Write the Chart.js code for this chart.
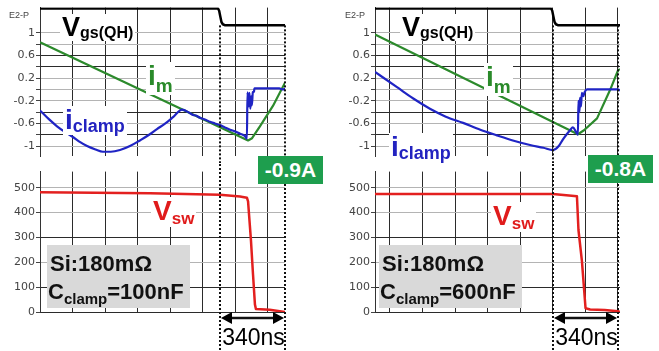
<!DOCTYPE html>
<html>
<head>
<meta charset="utf-8">
<script src="https://cdn.jsdelivr.net/npm/chart.js@4.4.1/dist/chart.umd.min.js"></script>
<style>
  body { margin: 0; background: #fff; }
  #wrap { position: relative; width: 659px; height: 351px; overflow: hidden; font-family: Arial, "Liberation Sans", sans-serif; }
  canvas { position: absolute; }
  .tag { position: absolute; background: #fff; font-weight: bold; line-height: 1; white-space: nowrap; padding: 0 2px; }
  .k { color: #000; }
  .g { color: #2a8a2a; }
  .b { color: #2323c0; }
  .r { color: #e01b1b; }
  .scope { position: absolute; font-size: 9px; color: #444; }
  .note { position: absolute; background: #d9d9d9; font-weight: bold; font-size: 22px; color: #111; width: 143px; height: 63px; }
  .note div { position: absolute; line-height: 22px; white-space: nowrap; }
  .note .cs { font-size: 15px; vertical-align: -5px; }
  .amp { position: absolute; background: #1e9e4e; color: #fff; font-weight: bold; font-size: 21px; text-align: center; line-height: 28px; width: 65px; height: 28px; }
</style>
</head>
<body>
<div id="wrap">
  <canvas id="lt" width="330" height="164" style="left:0;top:0"></canvas>
  <canvas id="lb" width="330" height="187" style="left:0;top:164px"></canvas>
  <canvas id="rt" width="329" height="164" style="left:330px;top:0"></canvas>
  <canvas id="rb" width="329" height="187" style="left:330px;top:164px"></canvas>

  <div class="scope" style="left:9px;top:10px">E2-P</div>
  <div class="scope" style="left:345px;top:10px">E2-P</div>

  <div class="tag k" style="left:60px;top:14px;font-size:27px">V<span style="font-size:16px;vertical-align:-2px">gs(QH)</span></div>
  <div class="tag g" style="left:146px;top:62px;font-size:28px">i<span style="font-size:19px;vertical-align:-7px">m</span></div>
  <div class="tag b" style="left:63px;top:106px;font-size:28px">i<span style="font-size:18px;vertical-align:-3px">clamp</span></div>
  <div class="tag r" style="left:151px;top:197px;font-size:28px">V<span style="font-size:17px;vertical-align:-4px">sw</span></div>

  <div class="tag k" style="left:400px;top:14px;font-size:27px">V<span style="font-size:16px;vertical-align:-2px">gs(QH)</span></div>
  <div class="tag g" style="left:484px;top:63px;font-size:28px">i<span style="font-size:19px;vertical-align:-7px">m</span></div>
  <div class="tag b" style="left:389px;top:133px;font-size:28px">i<span style="font-size:18px;vertical-align:-3px">clamp</span></div>
  <div class="tag r" style="left:491px;top:202px;font-size:28px">V<span style="font-size:17px;vertical-align:-4px">sw</span></div>

  <div class="note" style="left:47px;top:245px">
    <div style="left:3px;top:8px">Si:180mΩ</div>
    <div style="left:1px;top:36px">C<span class="cs">clamp</span>=100nF</div>
  </div>
  <div class="note" style="left:379px;top:245px">
    <div style="left:3px;top:8px">Si:180mΩ</div>
    <div style="left:1px;top:36px">C<span class="cs">clamp</span>=600nF</div>
  </div>

  <div class="amp" style="left:258px;top:156px">-0.9A</div>
  <div class="amp" style="left:588px;top:155px">-0.8A</div>
</div>

<script>
// time in ns from the left edge of each window
var leftGrid = [0, 170, 340, 510, 680, 850, 1020, 1190];
var rightGrid = [78, 248, 418, 588, 758, 928, 1098, 1268];
var leftMarks = [940, 1280];
var rightMarks = [930, 1270];
var spanLabel = '340ns';

var iTicks = [-1, -0.8, -0.6, -0.4, -0.2, 0, 0.2, 0.4, 0.6, 0.8, 1];
var iLabels = ['-1', '', '-0.6', '', '-0.2', '', '0.2', '', '0.6', '', '1'];
var iDark = [-0.8, -0.4, 0.4, 0.6];
var vTicks = [0, 100, 200, 300, 400, 500];
var vLabels = ['0', '100', '200', '300', '400', '500'];
var vDark = [0, 100, 300];

// left: Cclamp = 100nF
var gateLeftT = [0, 930, 936, 942, 948, 955, 968, 1280];
var gateLeftV = [15, 15, 13, 8, 3, 1, 0, 0];
var imLeftT = [0, 1087, 1108, 1149, 1217, 1280];
var imLeftA = [0.835, -0.9, -0.86, -0.65, -0.29, 0.12];
var clampLeftT = [0, 45, 89, 130, 172, 210, 246, 290, 329, 370, 418, 470, 522, 570, 611, 655, 695, 742, 784, 800, 815, 836, 862, 888, 914, 940, 966, 993, 1019, 1045, 1070, 1081,
  1084, 1090, 1094, 1099, 1103, 1107, 1112, 1118, 1120, 1250, 1270, 1280];
var clampLeftA = [-0.37, -0.52, -0.65, -0.75, -0.84, -0.93, -1.0, -1.06, -1.1, -1.1, -1.07, -1.0, -0.9, -0.8, -0.7, -0.6, -0.49, -0.355, -0.42, -0.45, -0.46, -0.5, -0.53, -0.57, -0.6, -0.63, -0.67, -0.71, -0.74, -0.78, -0.82, -0.87,
  -0.05, -0.3, -0.06, -0.34, -0.12, -0.28, -0.05, -0.04, 0.02, 0.02, 0.0, 0.02];
var vswLeftT = [0, 575, 940, 1045, 1081, 1087, 1102, 1113, 1123, 1128, 1200, 1280];
var vswLeftV = [482, 478, 472, 465, 460, 445, 290, 150, 30, 12, 9, 0];

// right: Cclamp = 600nF
var gateRightT = [0, 920, 926, 932, 938, 945, 958, 1280];
var gateRightV = [15, 15, 13, 8, 3, 1, 0, 0];
var imRightT = [0, 1060, 1092, 1160, 1228, 1270, 1280];
var imRightA = [0.97, -0.79, -0.72, -0.51, -0.01, 0.34, 0.36];
var clampRightT = [0, 115, 200, 287, 370, 460, 550, 637, 720, 810, 880, 930, 960, 982, 1019, 1034, 1050, 1060,
  1063, 1068, 1071, 1076, 1081, 1088, 1095, 1108, 1269, 1280];
var clampRightA = [0.31, 0.04, -0.16, -0.34, -0.48, -0.59, -0.71, -0.81, -0.9, -0.98, -1.03, -1.07, -1.0, -0.88, -0.72, -0.67, -0.75, -0.8,
  -0.2, -0.4, -0.15, -0.3, -0.06, -0.12, -0.05, 0.0, 0.0, -0.02];
var vswRightT = [0, 930, 1055, 1063, 1081, 1100, 1124, 1200, 1270, 1280];
var vswRightV = [475, 475, 466, 330, 206, 15, 10, 8, 3, 0];

var tickFont = { family: 'DejaVu Sans', size: 11 };

function points(t, v) {
  var out = [];
  for (var i = 0; i < t.length; i++) {
    out.push({ x: t[i], y: v[i] });
  }
  return out;
}

function gridAt(values) {
  return function(scale) {
    scale.ticks = values.map(function(v) { return { value: v }; });
  };
}

function timeAxis(grid) {
  return {
    type: 'linear', min: 0, max: 1280,
    afterBuildTicks: gridAt(grid),
    afterFit: function(s) { s.height = 0; },
    ticks: { display: false },
    grid: { color: '#2b2b2b', drawTicks: false },
    border: { display: false }
  };
}

function levelAxis(min, max, ticks, labels, dark, width) {
  return {
    min: min, max: max,
    afterBuildTicks: gridAt(ticks),
    afterFit: function(s) { s.width = width; },
    ticks: {
      font: tickFont, color: '#444', padding: 1, autoSkip: false,
      callback: function(value, index) { return labels[index]; }
    },
    grid: {
      tickLength: 4, tickColor: '#444',
      color: function(c) {
        if (!c.tick) return '#b0b0b0';
        return dark.indexOf(c.tick.value) >= 0 ? '#2b2b2b' : '#b4b4b4';
      }
    },
    border: { color: '#333' }
  };
}

// dotted time markers, plus the 340ns arrow under the lower plot
var markerPlugin = {
  id: 'markers',
  afterDatasetsDraw: function(chart, args, opts) {
    var ctx = chart.ctx;
    var xs = opts.marks.map(function(m) { return Math.round(chart.scales.x.getPixelForValue(m)); });
    var top = opts.fromGate ? chart.scales.yg.getPixelForValue(0) : 0;
    ctx.save();
    ctx.strokeStyle = '#111';
    ctx.lineWidth = 2;
    ctx.setLineDash([2, 2]);
    xs.forEach(function(px) {
      ctx.beginPath();
      ctx.moveTo(px, top);
      ctx.lineTo(px, chart.height - 1);
      ctx.stroke();
    });
    ctx.setLineDash([]);
    if (opts.span) {
      var y = chart.chartArea.bottom + 6;
      var a = xs[0] + 1, b = xs[1] - 1;
      ctx.fillStyle = '#000';
      ctx.lineWidth = 2.5;
      ctx.beginPath();
      ctx.moveTo(a + 8, y);
      ctx.lineTo(b - 8, y);
      ctx.stroke();
      ctx.beginPath();
      ctx.moveTo(a, y); ctx.lineTo(a + 11, y - 6); ctx.lineTo(a + 11, y + 6); ctx.closePath();
      ctx.fill();
      ctx.beginPath();
      ctx.moveTo(b, y); ctx.lineTo(b - 11, y - 6); ctx.lineTo(b - 11, y + 6); ctx.closePath();
      ctx.fill();
      ctx.font = '23px Arial';
      ctx.textAlign = 'center';
      ctx.fillText(opts.span, (xs[0] + xs[1]) / 2 + 1, chart.chartArea.bottom + 33);
    }
    ctx.restore();
  }
};

function baseOptions(padding, markers) {
  return {
    responsive: false, animation: false, events: [], devicePixelRatio: 1,
    layout: { padding: padding },
    elements: { point: { radius: 0 }, line: { tension: 0, borderJoinStyle: 'round' } },
    plugins: { legend: { display: false }, tooltip: { enabled: false }, markers: markers }
  };
}

function printTopChart(id, grid, yWidth, padRight, marks, gateT, gateV, imT, imA, clT, clA) {
  var options = baseOptions({ top: 5, right: padRight, bottom: 0, left: 0 }, { marks: marks, fromGate: true });
  options.scales = {
    x: timeAxis(grid),
    y: levelAxis(-1.182, 1.446, iTicks, iLabels, iDark, yWidth),
    yg: { display: false, min: -116.7, max: 15.83 }
  };
  new Chart(document.getElementById(id), {
    type: 'line',
    data: {
      datasets: [
        { data: points(clT, clA), borderColor: '#1f24c4', borderWidth: 2.2, cubicInterpolationMode: 'monotone' },
        { data: points(imT, imA), borderColor: '#2c8a2c', borderWidth: 2.2 },
        { data: points(gateT, gateV), borderColor: '#000', borderWidth: 2.5, yAxisID: 'yg' }
      ]
    },
    options: options,
    plugins: [markerPlugin]
  });
}

function printBottomChart(id, grid, yWidth, padRight, marks, vT, vV) {
  var options = baseOptions({ top: 0, right: padRight, bottom: 39, left: 0 }, { marks: marks, span: spanLabel });
  options.scales = {
    x: timeAxis(grid),
    y: levelAxis(0, 565, vTicks, vLabels, vDark, yWidth)
  };
  new Chart(document.getElementById(id), {
    type: 'line',
    data: {
      datasets: [
        { data: points(vT, vV), borderColor: '#e3201f', borderWidth: 2.5 }
      ]
    },
    options: options,
    plugins: [markerPlugin]
  });
}

printTopChart('lt', leftGrid, 40, 45, leftMarks, gateLeftT, gateLeftV, imLeftT, imLeftA, clampLeftT, clampLeftA);
printBottomChart('lb', leftGrid, 40, 45, leftMarks, vswLeftT, vswLeftV);
printTopChart('rt', rightGrid, 45, 39, rightMarks, gateRightT, gateRightV, imRightT, imRightA, clampRightT, clampRightA);
printBottomChart('rb', rightGrid, 45, 39, rightMarks, vswRightT, vswRightV);
</script>
</body>
</html>
